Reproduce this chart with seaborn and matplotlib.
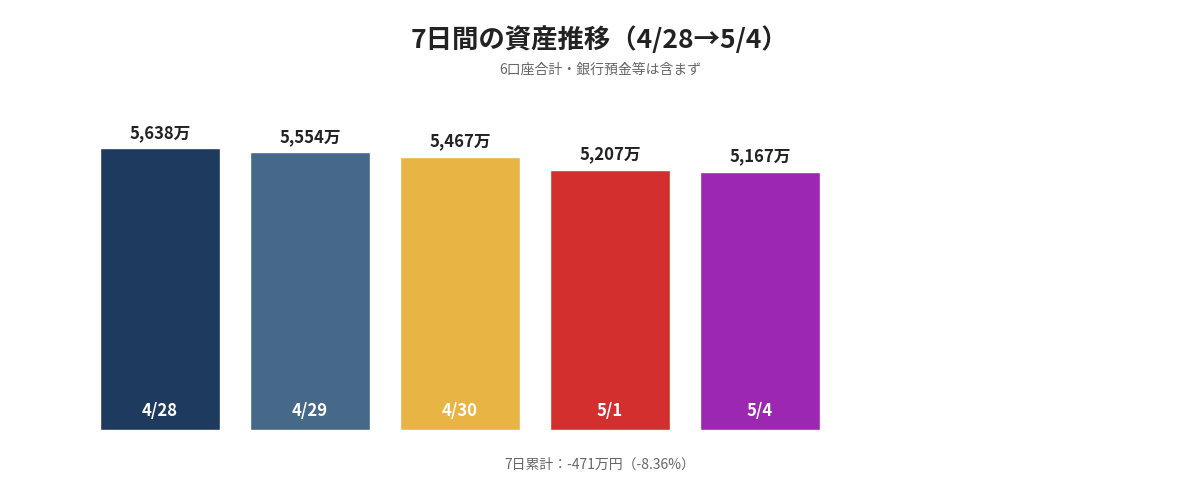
import matplotlib
matplotlib.use('Agg')
import matplotlib.pyplot as plt
import seaborn as sns
import pandas as pd

dates = ['4/28', '4/29', '4/30', '5/1', '5/4']
values = [5638, 5554, 5467, 5207, 5167]
colors = ['#1f3a5f', '#466889', '#e8b444', '#d32f2f', '#9c27b0']

sns.set_style('white')
plt.rcParams['font.family'] = ['Noto Sans CJK JP', 'DejaVu Sans']

df = pd.DataFrame({'date': dates, 'value': values})

fig = plt.figure(figsize=(12, 5), dpi=100)
ax = fig.add_axes([85 / 1200, 0.14, 1050 / 1200, 0.60])
sns.barplot(data=df, x='date', y='value', hue='date', palette=colors,
            width=0.8, saturation=1, legend=False, ax=ax)
ax.set_xlim(-0.5, 6.5)
ax.set_ylim(0, 6000)
ax.axis('off')

for i, v in enumerate(values):
    ax.text(i, v + 120, f'{v:,}万', ha='center', va='bottom',
            fontsize=12, fontweight='bold', color='#222222')
    ax.text(i, 380, dates[i], ha='center', va='center',
            fontsize=12, fontweight='bold', color='white')

fig.text(0.5, 0.92, '7日間の資産推移（4/28→5/4）', ha='center', va='center',
         fontsize=19, fontweight='bold', color='#222222')
fig.text(0.5, 0.86, '6口座合計・銀行預金等は含まず', ha='center', va='center',
         fontsize=10, color='#666666')
fig.text(0.5, 0.07, '7日累計：-471万円（-8.36%）', ha='center', va='center',
         fontsize=10, color='#666666')

fig.savefig('out.png', dpi=100)
